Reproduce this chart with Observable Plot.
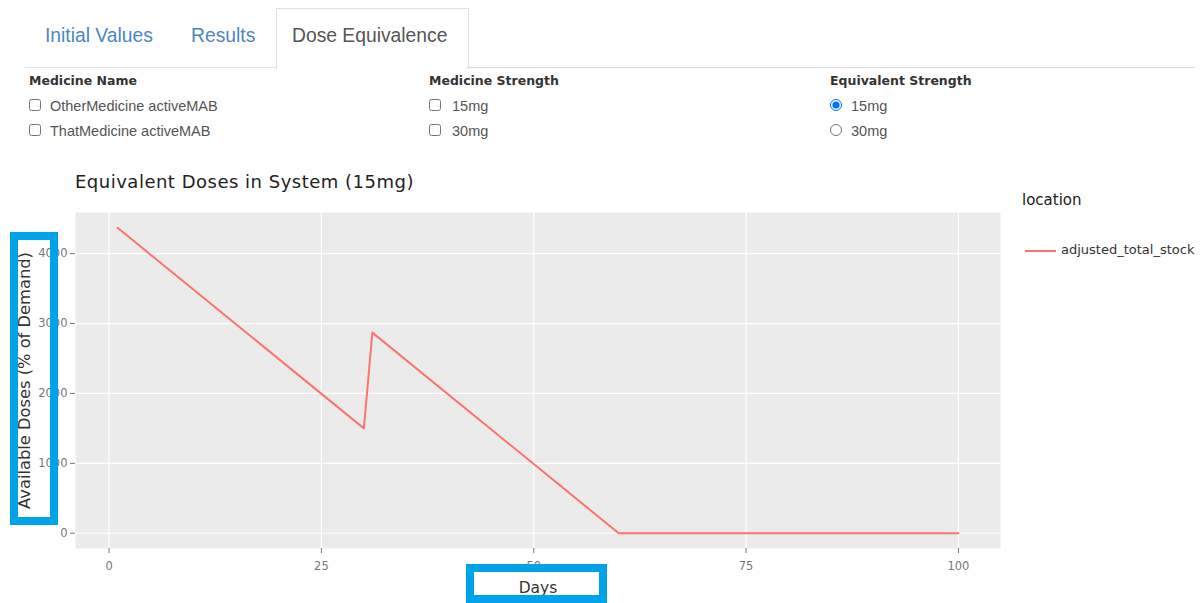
<!DOCTYPE html>
<html><head><meta charset="utf-8">
<script src="https://cdn.jsdelivr.net/npm/d3@7"></script>
<script src="https://cdn.jsdelivr.net/npm/@observablehq/plot@0.6"></script>
<style>
html,body{margin:0;padding:0;background:#fff;}
body{width:1200px;height:603px;position:relative;overflow:hidden;font-family:"Liberation Sans",Arial,sans-serif;}
.abs{position:absolute;white-space:nowrap;line-height:1;}
.tab{font-size:19.3px;color:#4d86c4;}
.tab.active{color:#555;}
.head{font-family:"DejaVu Sans";font-weight:bold;font-size:12.5px;color:#333;}
.opt{font-size:14.5px;color:#555;}
input.box{position:absolute;margin:0;width:12px;height:12px;}
#title{font-family:"DejaVu Sans";font-size:18px;letter-spacing:0.5px;color:#222;}
#chart{position:absolute;left:0;top:200px;}
g[aria-label="x-axis label"] text{font-size:15.5px;fill:#333;}
g[aria-label="y-axis label"] text{font-size:16.3px;fill:#333;}
.hl{position:absolute;border:8px solid #00a3e8;box-sizing:border-box;background:transparent;}
#legtitle{font-family:"DejaVu Sans";font-size:15px;color:#222;}
#legkey{position:absolute;left:1025px;top:250px;width:31px;height:0;border-top:2px solid #F8766D;}
#leglab{font-family:"DejaVu Sans";font-size:13px;color:#333;}
</style>
</head><body>
<!-- tabs -->
<div class="abs" style="left:25px;top:67px;width:252px;height:0;border-top:1px solid #e4e4e4;"></div>
<div class="abs" style="left:276px;top:8px;width:191px;height:60px;border:1px solid #e0e0e0;border-bottom:none;background:#fff;"></div>
<div class="abs" style="left:467px;top:67px;width:728px;height:0;border-top:1px solid #dcdcdc;"></div>
<div class="abs tab" style="left:45px;top:26px;">Initial Values</div>
<div class="abs tab" style="left:191px;top:26px;">Results</div>
<div class="abs tab active" style="left:292px;top:26px;">Dose Equivalence</div>

<div class="abs head" style="left:29px;top:75px;">Medicine Name</div>
<input class="box" type="checkbox" style="left:29px;top:99px;">
<div class="abs opt" style="left:50px;top:99px;">OtherMedicine activeMAB</div>
<input class="box" type="checkbox" style="left:29px;top:124px;">
<div class="abs opt" style="left:50px;top:124px;">ThatMedicine activeMAB</div>

<div class="abs head" style="left:429px;top:75px;">Medicine Strength</div>
<input class="box" type="checkbox" style="left:429px;top:99px;">
<div class="abs opt" style="left:452px;top:99px;">15mg</div>
<input class="box" type="checkbox" style="left:429px;top:124px;">
<div class="abs opt" style="left:452px;top:124px;">30mg</div>

<div class="abs head" style="left:830px;top:75px;">Equivalent Strength</div>
<input class="box" type="radio" name="eq" checked style="left:830px;top:99px;">
<div class="abs opt" style="left:851px;top:99px;">15mg</div>
<input class="box" type="radio" name="eq" style="left:830px;top:124px;">
<div class="abs opt" style="left:851px;top:124px;">30mg</div>

<div id="title" class="abs" style="left:75px;top:173px;">Equivalent Doses in System (15mg)</div>
<div id="chart"></div>
<div id="legtitle" class="abs" style="left:1022px;top:193px;">location</div>
<div id="legkey"></div>
<div id="leglab" class="abs" style="left:1061px;top:243px;">adjusted_total_stock</div>

<div class="hl" style="left:10px;top:232px;width:48px;height:293px;"></div>
<div class="hl" style="left:466px;top:564px;width:141px;height:39px;"></div>

<script>
const days = [1, 30, 31, 60, 100];
const stock = [4370, 1500, 2870, 0, 0];
const xTicks = [0, 25, 50, 75, 100];
const yTicks = [0, 1000, 2000, 3000, 4000];
const seriesName = "adjusted_total_stock";
const xTitle = "Days";
const yTitle = "Available Doses (% of Demand)";

const data = days.map((d, i) => ({day: d, value: stock[i], location: seriesName}));
const xr = d3.extent(days), yr = d3.extent(stock);
const xp = (xr[1] - xr[0]) * 0.05, yp = (yr[1] - yr[0]) * 0.05;

const chart = Plot.plot({
  width: 1200, height: 403,
  marginTop: 12, marginBottom: 55, marginLeft: 75, marginRight: 200,
  style: {fontFamily: "DejaVu Sans", fontSize: "11.5px", color: "#777", background: "transparent", overflow: "visible"},
  x: {domain: [xr[0] - xp, xr[1] + xp]},
  y: {domain: [yr[0] - yp, yr[1] + yp]},
  marks: [
    Plot.frame({fill: "#EBEBEB", stroke: "none"}),
    Plot.gridX({ticks: xTicks, stroke: "#fff", strokeOpacity: 1, strokeWidth: 1.2}),
    Plot.gridY({ticks: yTicks, stroke: "#fff", strokeOpacity: 1, strokeWidth: 1.2}),
    Plot.axisX({ticks: xTicks, tickSize: 5, tickPadding: 8, tickFormat: d => String(d),
      label: xTitle, labelAnchor: "center", labelOffset: 44, labelArrow: false}),
    Plot.axisY({ticks: yTicks, tickSize: 5, tickPadding: 3, tickFormat: d => String(d),
      label: yTitle, labelAnchor: "center", labelOffset: 57, labelArrow: false}),
    Plot.line(data, {x: "day", y: "value", stroke: "#F8766D", strokeWidth: 2})
  ]
});
document.getElementById("chart").appendChild(chart);
</script>
</body></html>
